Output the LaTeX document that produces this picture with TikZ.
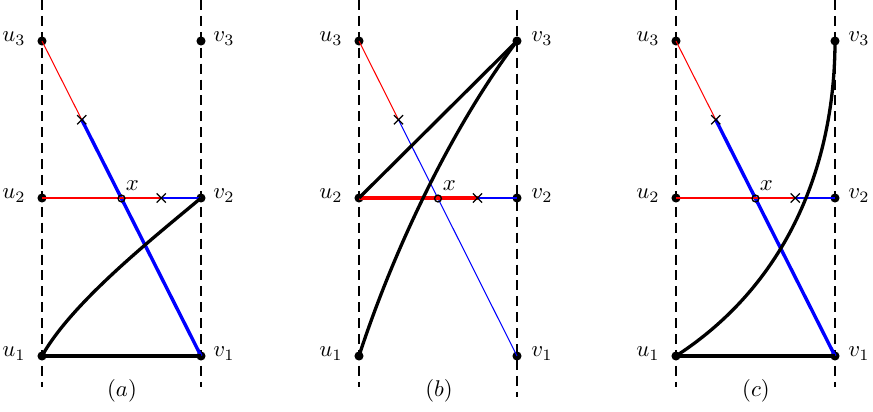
\documentclass[tikz,border=0pt]{standalone}
\usetikzlibrary{shapes.misc,calc}
\tikzset{
 dot/.style={circle,fill=black,inner sep=0pt,minimum size=4pt},
 xmark/.style={cross out,draw=black,line width=0.6pt,inner sep=0pt,minimum size=3.4pt},
 omark/.style={circle,draw=black,line width=0.6pt,inner sep=0pt,minimum size=3pt},
 vline/.style={line width=0.9pt,dash pattern=on 4.4pt off 2.6pt},
 thinred/.style={red,line width=0.45pt},
 thinblue/.style={blue,line width=0.45pt},
 thickblue/.style={blue,line width=1.5pt},
 thickred/.style={red,line width=1.6pt},
 thickblack/.style={black,line width=1.45pt},
 ulab/.style={anchor=base east,inner sep=0pt},
 vlab/.style={anchor=base west,inner sep=0pt},
 xlab/.style={anchor=base west,inner sep=0pt},
 caplabel/.style={anchor=base,inner sep=0pt},
}
\begin{document}
\begin{tikzpicture}[x=0.44pt,y=-0.44pt]
\useasboundingbox (0,0) rectangle (873,412);

% ---------- panel (a) ----------
\coordinate (a-lt) at (42,0);   \coordinate (a-lb) at (42,387);
\coordinate (a-rt) at (201,0);  \coordinate (a-rb) at (201,387);
\draw[vline] (a-lt) -- (a-lb);
\draw[vline] (a-rt) -- (a-rb);
\node[dot] (a-u3) at (42,41) {};
\node[dot] (a-u2) at (42,198) {};
\node[dot] (a-u1) at (42,356) {};
\node[dot] (a-v3) at (201,41) {};
\node[dot] (a-v2) at (201,198) {};
\node[dot] (a-v1) at (201,356) {};
\coordinate (a-c1) at ($(a-u3.center)!0.25!(a-v1.center)$);
\coordinate (a-o) at ($(a-u3.center)!0.5!(a-v1.center)$);
\coordinate (a-c2) at ($(a-u2.center)!0.75!(a-v2.center)$);
\draw[thinred] (a-u3.center) -- (a-c1);
\draw[thickblue] (a-c1) -- (a-v1.center);
\draw[thinred] (a-u2.center) -- (a-c2);
\draw[thinblue] (a-c2) -- (a-v2.center);
\draw[thickblack] (a-u1.center) -- (a-v1.center);
\draw[thickblack] (a-u1.center) .. controls +(30,-54) and +(-46,38.6) .. (a-v2.center);
\node[xmark] (a-x1) at (a-c1) {};
\node[xmark] (a-x2) at (a-c2) {};
\node[omark] (a-oo) at (a-o) {};
\node[xlab] (a-xl) at (125.5,191) {$x$};
\node[ulab] (a-lu3) at (26,42) {$u_3$};
\node[ulab] (a-lu2) at (26,199) {$u_2$};
\node[ulab] (a-lu1) at (26,357) {$u_1$};
\node[vlab] (a-lv3) at (213,42) {$v_3$};
\node[vlab] (a-lv2) at (213,199) {$v_2$};
\node[vlab] (a-lv1) at (213,357) {$v_1$};
\node[caplabel] (a-cap) at (122,397) {$(a)$};

% ---------- panel (b) ----------
\coordinate (b-lt) at (359,0);   \coordinate (b-lb) at (359,387);
\coordinate (b-rt) at (517,10);  \coordinate (b-rb) at (517,397);
\draw[vline] (b-lt) -- (b-lb);
\draw[vline] (b-rt) -- (b-rb);
\node[dot] (b-u3) at (359,41) {};
\node[dot] (b-u2) at (359,198) {};
\node[dot] (b-u1) at (359,356) {};
\node[dot] (b-v3) at (517,41) {};
\node[dot] (b-v2) at (517,198) {};
\node[dot] (b-v1) at (517,356) {};
\coordinate (b-c1) at ($(b-u3.center)!0.25!(b-v1.center)$);
\coordinate (b-o) at ($(b-u3.center)!0.5!(b-v1.center)$);
\coordinate (b-c2) at ($(b-u2.center)!0.75!(b-v2.center)$);
\draw[thinred] (b-u3.center) -- (b-c1);
\draw[thinblue] (b-c1) -- (b-v1.center);
\draw[thickred] (b-u2.center) -- (b-c2);
\draw[thinblue] (b-c2) -- (b-v2.center);
\draw[thickblack] (b-u2.center) -- (b-v3.center);
\draw[thickblack] (b-u1.center) .. controls +(34,-104.6) and +(-66.2,87.9) .. (b-v3.center);
\node[xmark] (b-x1) at (b-c1) {};
\node[xmark] (b-x2) at (b-c2) {};
\node[omark] (b-oo) at (b-o) {};
\node[xlab] (b-xl) at (442.5,191) {$x$};
\node[ulab] (b-lu3) at (343,42) {$u_3$};
\node[ulab] (b-lu2) at (343,199) {$u_2$};
\node[ulab] (b-lu1) at (343,357) {$u_1$};
\node[vlab] (b-lv3) at (531,42) {$v_3$};
\node[vlab] (b-lv2) at (531,199) {$v_2$};
\node[vlab] (b-lv1) at (531,357) {$v_1$};
\node[caplabel] (b-cap) at (439,397) {$(b)$};

% ---------- panel (c) ----------
\coordinate (c-lt) at (676,0);   \coordinate (c-lb) at (676,387);
\coordinate (c-rt) at (835,0);   \coordinate (c-rb) at (835,387);
\draw[vline] (c-lt) -- (c-lb);
\draw[vline] (c-rt) -- (c-rb);
\node[dot] (c-u3) at (676,41) {};
\node[dot] (c-u2) at (676,198) {};
\node[dot] (c-u1) at (676,356) {};
\node[dot] (c-v3) at (835,41) {};
\node[dot] (c-v2) at (835,198) {};
\node[dot] (c-v1) at (835,356) {};
\coordinate (c-c1) at ($(c-u3.center)!0.25!(c-v1.center)$);
\coordinate (c-o) at ($(c-u3.center)!0.5!(c-v1.center)$);
\coordinate (c-c2) at ($(c-u2.center)!0.75!(c-v2.center)$);
\draw[thinred] (c-u3.center) -- (c-c1);
\draw[thickblue] (c-c1) -- (c-v1.center);
\draw[thinred] (c-u2.center) -- (c-c2);
\draw[thinblue] (c-c2) -- (c-v2.center);
\draw[thickblack] (c-u1.center) -- (c-v1.center);
\draw[thickblack] (c-u1.center) .. controls +(117.4,-76.2) and +(0,115) .. (c-v3.center);
\node[xmark] (c-x1) at (c-c1) {};
\node[xmark] (c-x2) at (c-c2) {};
\node[omark] (c-oo) at (c-o) {};
\node[xlab] (c-xl) at (759.5,191) {$x$};
\node[ulab] (c-lu3) at (660,42) {$u_3$};
\node[ulab] (c-lu2) at (660,199) {$u_2$};
\node[ulab] (c-lu1) at (660,357) {$u_1$};
\node[vlab] (c-lv3) at (848,42) {$v_3$};
\node[vlab] (c-lv2) at (848,199) {$v_2$};
\node[vlab] (c-lv1) at (848,357) {$v_1$};
\node[caplabel] (c-cap) at (756,397) {$(c)$};
\end{tikzpicture}
\end{document}
